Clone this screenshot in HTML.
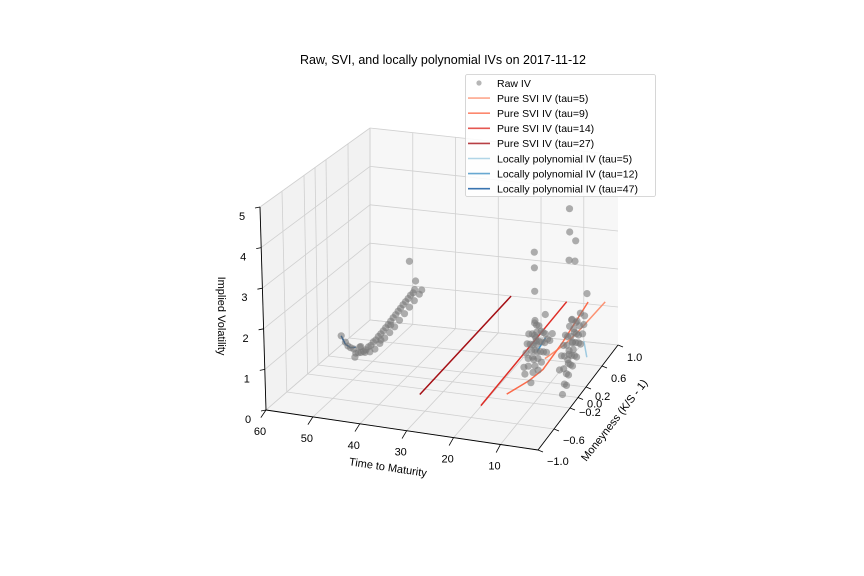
<!DOCTYPE html>
<html><head><meta charset="utf-8"><style>
body{margin:0;background:#fff;}
svg{display:block;font-family:"Liberation Sans","DejaVu Sans",sans-serif;}
</style></head><body>
<svg id="chart" width="864" height="576" viewBox="0 0 864 576">
<rect width="864" height="576" fill="#fff"/>
<text x="443" y="64" font-size="12.5" text-anchor="middle" fill="#000">Raw, SVI, and locally polynomial IVs on 2017-11-12</text>
<g id="panes"></g><g id="grid"></g><g id="axes"></g><g id="marks"></g><g id="legend"></g>
</svg>
<script>
const tauTicks=[10,20,30,40,50,60];
const mTicks=[-1.0,-0.6,-0.2,0.0,0.2,0.6,1.0];
const mTickLabels=["\u22121.0","\u22120.6","\u22120.2","0.0","0.2","0.6","1.0"];
const zTicks=[0,1,2,3,4,5];
// raw IV points
const rawTau=[47,47,47,47,47,47,47,47,47,47,47,47,47,47,47,47,47,47,47,47,47,47,47,47,47,47,47,47,47,47,47,47,47,47,47,47,
45,45,45,45,45,45,45,45,45,45,45,45,45,45,
12,12,12,12,12,12,12,12,12,12,12,12,12,12,12,12,12,12,12,12,12,12,12,12,12,12,12,12,12,12,
14,14,14,14,14,14,14,14,14,14,14,14,14,14,14,14,
5,5,5,5,5,5,5,5,5,5,5,5,5,5,5,5,5,5,5,5,5,5,5,5,5,5,5,5,5,5,5,5,5,
7,7,7,7,7,7,7,7,7,7,7,7,7,7,7,7];
const rawM=[-0.68,-0.6,-0.55,-0.5,-0.44,-0.4,-0.35,-0.3,-0.25,-0.2,-0.15,-0.1,-0.05,0,0.05,0.1,0.15,0.2,0.25,0.3,0.35,0.4,0.45,0.5,0.55,0.6,0.65,0.7,0.75,0.78,-0.42,0.68,0.8,0.1,0.3,-0.3,
-0.5,-0.4,-0.3,-0.2,-0.1,0,0.1,0.2,0.3,0.4,0.5,0.6,0.7,0.75,
-0.05,0,0.02,0.05,0.05,0.08,0.1,0.1,0.12,0.15,0.15,0.18,0.2,0.2,0.22,0.25,0.25,0.28,0.3,0.3,0.05,0.32,0.12,0.35,0.4,0.46,0.06,0.06,0.06,0.06,
0,0.05,0.08,0.1,0.12,0.15,0.18,0.2,0.22,0.25,0.28,0.3,0.02,0.1,0.2,0.3,
-0.05,0,0.05,0.05,0.1,0.1,0.12,0.15,0.18,0.2,0.2,0.22,0.25,0.25,0.28,0.3,0.3,0.32,0.35,0.35,0.38,0.4,0.4,0.45,0.48,0.2,0.5,0.16,0.16,0.3,0.14,0.28,0.56,
0.1,0.15,0.2,0.22,0.25,0.28,0.3,0.33,0.35,0.38,0.4,0.42,0.45,0.2,0.3,0.5];
const rawIV=[1.7,1.45,1.3,1.2,1.1,0.95,0.9,0.85,0.82,0.8,0.82,0.8,0.83,0.82,0.85,0.86,0.88,0.9,0.92,0.95,0.98,1.0,1.03,1.05,1.08,1.1,1.12,1.15,1.15,1.2,0.87,2.05,1.4,0.7,0.85,1.0,
1.25,1.0,0.9,0.85,0.88,0.9,0.92,0.95,1.0,1.05,1.1,1.15,1.2,1.25,
0.3,0.5,0.8,1.0,0.6,1.2,0.9,1.4,0.7,1.1,1.5,0.8,1.3,0.5,1.0,1.2,0.7,0.9,1.1,1.6,1.7,0.6,0.4,0.9,0.8,0.9,3.5,3.1,2.5,1.75,
0.6,0.9,1.1,0.7,1.3,1.0,0.8,1.2,0.9,1.1,1.0,1.3,0.4,0.5,0.6,0.8,
0.1,0.3,0.5,0.2,0.7,0.4,1.0,0.6,0.8,1.1,0.5,0.9,1.3,0.7,1.0,1.2,0.6,1.5,0.9,1.1,1.3,0.8,1.6,1.0,1.2,1.7,1.4,4.6,4.0,3.6,3.3,3.1,1.9,
0.5,0.8,1.0,0.7,1.2,0.9,1.1,0.6,1.3,1.0,1.4,0.8,1.1,0.4,0.5,1.2];
// SVI curves
const sviTaus=[5,9,14,27];
const sviColors=["#fc9272","#fb6a4a","#de2d26","#a50f15"];
const sviM=[[-0.46,0,0.32,1.0],[-0.94,-0.42,-0.08,0.38,1.0],[-1,1],[-1,1]];
const sviIV=[[1.55,1.3,1.2,1.1],[1.2,0.87,0.72,0.8,1.05],[0.9,1.0],[0.95,1.0]];
// locally polynomial curves
const lpTaus=[5,12,47];
const lpColors=["#9ecae1","#4292c6","#08519c"];
const lpM=[[0.48,0.55],[0.1,0.3],[-0.68,-0.6,-0.5,-0.4]];
const lpIV=[[0.77,0.26],[0.9,1.0],[1.7,1.4,1.2,1.1]];

const NS="http://www.w3.org/2000/svg";
const FL=[266,410],FR=[538,450],BL=[370,320],BR=[618,345];
const ZFL=[-1.2,-40.6],ZFR=[-0.8,-40],ZBL=[0,-38.4],ZBR=[0,-38];
function lerp2(a,b,c,d,u,v){return [a[0]*(1-u)*(1-v)+b[0]*u*(1-v)+c[0]*(1-u)*v+d[0]*u*v,a[1]*(1-u)*(1-v)+b[1]*u*(1-v)+c[1]*(1-u)*v+d[1]*u*v];}
function P(t,m,z){const u=(60-t)/58,v=(m+1)/2;const f=lerp2(FL,FR,BL,BR,u,v);const zz=lerp2(ZFL,ZFR,ZBL,ZBR,u,v);return [f[0]+zz[0]*z,f[1]+zz[1]*z];}
function el(tag,attrs,parent){const e=document.createElementNS(NS,tag);for(const k in attrs)e.setAttribute(k,attrs[k]);parent.appendChild(e);return e;}
function pts(arr){return arr.map(p=>p[0].toFixed(1)+","+p[1].toFixed(1)).join(" ");}
const gP=document.getElementById('panes'),gG=document.getElementById('grid'),gA=document.getElementById('axes'),gM=document.getElementById('marks'),gL=document.getElementById('legend');
const T0=60,T1=2;
let p=el('polygon',{points:pts([P(T0,-1,0),P(T0,1,0),P(T0,1,5),P(T0,-1,5)]),fill:'#f2f2f2'},gP);

p=el('polygon',{points:pts([P(T0,1,0),P(T1,1,0),P(T1,1,5),P(T0,1,5)]),fill:'#f7f7f7'},gP);

p=el('polygon',{points:pts([P(T0,-1,0),P(T1,-1,0),P(T1,1,0),P(T0,1,0)]),fill:'#f4f4f4'},gP);

function gl(a,b){const l=el('line',{x1:a[0],y1:a[1],x2:b[0],y2:b[1],stroke:'#d0d0d0','stroke-width':0.8},gG);

}
tauTicks.forEach(t=>{gl(P(t,-1,0),P(t,1,0));gl(P(t,1,0),P(t,1,5));});
mTicks.forEach(m=>{gl(P(T0,m,0),P(T1,m,0));gl(P(T0,m,0),P(T0,m,5));});
zTicks.forEach(z=>{gl(P(T0,-1,z),P(T0,1,z));gl(P(T0,1,z),P(T1,1,z));});
function spine(a,b,name){const l=el('line',{x1:a[0],y1:a[1],x2:b[0],y2:b[1],stroke:'#000','stroke-width':0.9},gA);

}
spine(P(T0,-1,0),P(T1,-1,0),'x-axis-line');
spine(P(T1,-1,0),P(T1,1,0),'y-axis-line');
spine(P(T0,-1,0),P(T0,-1,5),'z-axis-line');
function txt(x,y,s,name,extra){const t=el('text',Object.assign({x:x,y:y,'font-size':11,fill:'#000'},extra||{}),gA);t.textContent=s;

return t;}
tauTicks.forEach(t=>{const a=P(t,-1,0),b=P(t,-1.08,0);el('line',{x1:a[0],y1:a[1],x2:b[0]-1,y2:b[1]+4,stroke:'#000','stroke-width':0.8},gA);
txt(a[0]-6,a[1]+25,String(t),'x-tick-label',{'text-anchor':'middle'});});
mTicks.forEach((m,i)=>{const a=P(T1,m,0);el('line',{x1:a[0],y1:a[1],x2:a[0]+5,y2:a[1]+2,stroke:'#000','stroke-width':0.8},gA);
txt(a[0]+9,a[1]+(m>0.5?16:m<-0.5?15:m>0.1?13:m>-0.1?10:(m>-0.3?8:12)),mTickLabels[i],'y-tick-label',{'text-anchor':'start'});});
zTicks.forEach(z=>{const a=P(T0,-1,z);el('line',{x1:a[0],y1:a[1],x2:a[0]-5,y2:a[1]+1,stroke:'#000','stroke-width':0.8},gA);
txt(a[0]-18,a[1]+13,String(z),'z-tick-label',{'text-anchor':'middle'});});
txt(388,471,'Time to Maturity','x-axis-title',{'text-anchor':'middle',transform:'rotate(8.5 388 467)'});
txt(614,424,'Moneyness (K/S - 1)','y-axis-title',{'text-anchor':'middle',transform:'rotate(-52 614 420)'});
txt(218,316,'Implied Volatility','z-axis-title',{'text-anchor':'middle',transform:'rotate(90 218 316)'});
function drawLine(tau,ms,ivs,color,name){const pp=ms.map((m,i)=>P(tau,m,ivs[i]));const l=el('polyline',{points:pts(pp),fill:'none',stroke:color,'stroke-width':1.5},gM);

}
sviTaus.forEach((t,i)=>drawLine(t,sviM[i],sviIV[i],sviColors[i],'svi-curve-tau-'+t));
lpTaus.forEach((t,i)=>drawLine(t,lpM[i],lpIV[i],lpColors[i],'locpoly-curve-tau-'+t));
rawTau.forEach((t,i)=>{const a=P(t,rawM[i],rawIV[i]);const c=el('circle',{cx:a[0].toFixed(1),cy:a[1].toFixed(1),r:3.6,fill:'#7a7a7a','fill-opacity':0.6},gM);

});
const lb=el('rect',{x:465.5,y:74.5,width:190,height:122,rx:2,fill:'#fff','fill-opacity':0.85,stroke:'#ccc','stroke-width':0.8},gL);

const legLabels=["Raw IV","Pure SVI IV (tau=5)","Pure SVI IV (tau=9)","Pure SVI IV (tau=14)","Pure SVI IV (tau=27)","Locally polynomial IV (tau=5)","Locally polynomial IV (tau=12)","Locally polynomial IV (tau=47)"];
const legColors=[null].concat(sviColors,lpColors);
legLabels.forEach((s,i)=>{const y=83+i*15.1;const g=el('g',{},gL);


if(i===0)el('circle',{cx:479,cy:y,r:2.6,fill:'#7a7a7a','fill-opacity':0.55},g);
else el('line',{x1:468,y1:y,x2:490,y2:y,stroke:legColors[i],'stroke-width':1.6,'stroke-opacity':0.8},g);
const t=el('text',{x:497,y:y+3.8,'font-size':10.5,fill:'#000'},g);t.textContent=s;});
</script>
</body></html>
